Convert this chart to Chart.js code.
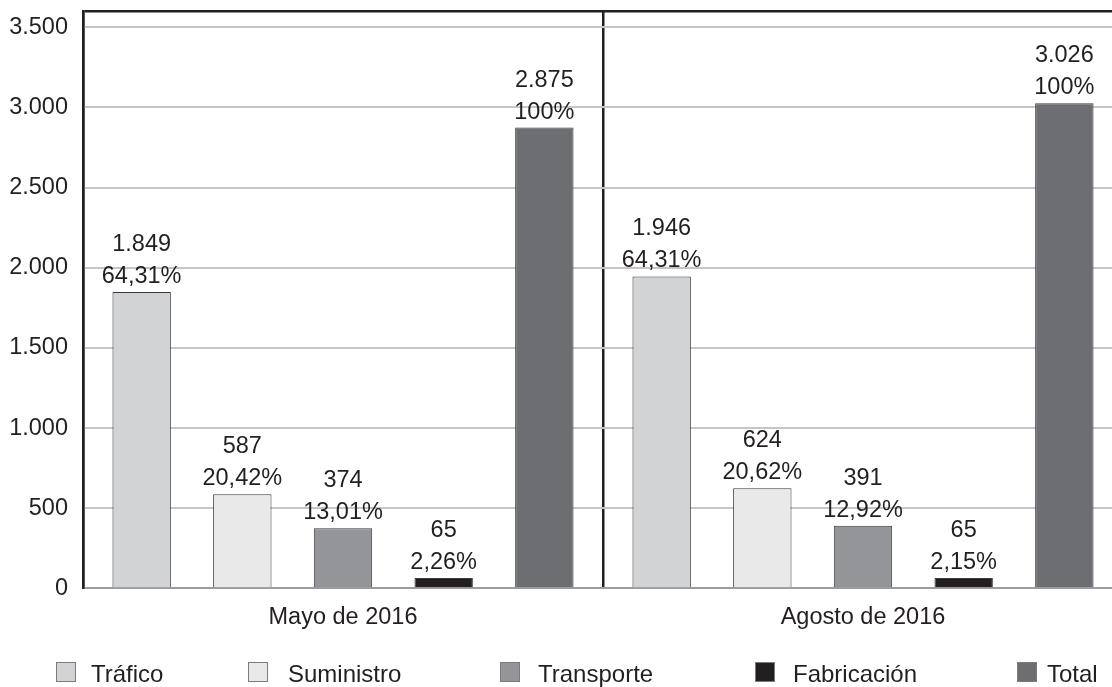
<!DOCTYPE html>
<html>
<head>
<meta charset="utf-8">
<script src="https://cdn.jsdelivr.net/npm/chart.js@4/dist/chart.umd.min.js"></script>
<style>
  html, body { margin: 0; padding: 0; background: #fff; overflow: hidden; }
  #wrap { position: relative; width: 1128px; height: 687px; }
  canvas { position: absolute; left: 0; top: 0; }
  .lg-box { position: absolute; width: 20px; height: 20px; box-sizing: border-box; border: 1.5px solid #7a7b7e; }
  .lg-txt { position: absolute; font-family: "Liberation Sans", Arial, sans-serif; font-size: 24px; line-height: 24px; color: #231f20; white-space: nowrap; }
</style>
</head>
<body>
<div id="wrap">
  <canvas id="c" width="1128" height="687"></canvas>
</div>
<script>
// ---- data ----
const categories = ['Mayo de 2016', 'Agosto de 2016'];
const seriesNames = ['Tráfico', 'Suministro', 'Transporte', 'Fabricación', 'Total'];
const trafico = [1849, 1946];
const suministro = [587, 624];
const transporte = [374, 391];
const fabricacion = [65, 65];
const total = [2875, 3026];
const pctTrafico = ['64,31%', '64,31%'];
const pctSuministro = ['20,42%', '20,62%'];
const pctTransporte = ['13,01%', '12,92%'];
const pctFabricacion = ['2,26%', '2,15%'];
const pctTotal = ['100%', '100%'];
const yTickValues = [0, 500, 1000, 1500, 2000, 2500, 3000, 3500];
const yMin = 0, yMax = 3600;

// ---- styles ----
const colors = ['#d1d3d4', '#e9e9ea', '#939598', '#231f20', '#6d6e71'];
const legendBoxX = [56, 248, 500, 755, 1017];
const legendTextX = [91, 288, 538, 793, 1047];
const FONT = '"Liberation Sans", Arial, sans-serif';
const FSIZE = 23.5;
const TEXT = '#231f20';

const seriesValues = [trafico, suministro, transporte, fabricacion, total];
const seriesPct = [pctTrafico, pctSuministro, pctTransporte, pctFabricacion, pctTotal];

function fmt(n) { return String(n).replace(/\B(?=(\d{3})+(?!\d))/g, '.'); }

const labelPlugin = {
  id: 'barLabels',
  afterDatasetsDraw(chart) {
    const ctx = chart.ctx;
    ctx.save();
    ctx.font = FSIZE + 'px ' + FONT;
    ctx.fillStyle = TEXT;
    ctx.textAlign = 'center';
    ctx.textBaseline = 'alphabetic';
    chart.data.datasets.forEach((ds, di) => {
      const meta = chart.getDatasetMeta(di);
      meta.data.forEach((el, i) => {
        ctx.fillText(fmt(ds.data[i]), el.x, el.y - 41);
        ctx.fillText(seriesPct[di][i], el.x, el.y - 9);
      });
    });
    ctx.restore();
  }
};

new Chart(document.getElementById('c'), {
  type: 'bar',
  data: {
    labels: categories,
    datasets: seriesNames.map((n, i) => ({
      label: n,
      data: seriesValues[i],
      backgroundColor: colors[i],
      borderColor: '#3a3a3c',
      borderWidth: 1,
      categoryPercentage: 0.968,
      barPercentage: 0.58
    }))
  },
  options: {
    responsive: false,
    animation: false,
    layout: { padding: { top: 11.3, right: 5, left: 0, bottom: 0 } },
    plugins: { legend: { display: false }, tooltip: { enabled: false } },
    scales: {
      x: {
        grid: { color: '#231f20', lineWidth: 2.5, drawTicks: false, offset: true },
        border: { display: true, color: '#9d9d9f', width: 2 },
        ticks: { color: TEXT, font: { family: FONT, size: FSIZE }, padding: 15 },
        afterFit(scale) { scale.height = 98.7; scale.paddingLeft = 0; scale.paddingRight = 0; }
      },
      y: {
        min: yMin, max: yMax,
        afterBuildTicks(scale) {
          scale.ticks = yTickValues.concat([yMax]).map(v => ({ value: v }));
        },
        ticks: {
          color: TEXT,
          font: { family: FONT, size: FSIZE },
          padding: 15,
          callback: v => (yTickValues.includes(v) ? fmt(v) : '')
        },
        grid: {
          drawTicks: false,
          color: c => c.tick.value === 0 ? '#9d9d9f' : (yTickValues.includes(c.tick.value) ? '#c6c6c9' : '#231f20'),
          lineWidth: c => (yTickValues.includes(c.tick.value) ? 2 : 2.5)
        },
        border: { display: true, color: '#231f20', width: 2.5 },
        afterFit(scale) { scale.width = 83; scale.paddingTop = 0; scale.paddingBottom = 0; }
      }
    }
  },
  plugins: [labelPlugin]
});

// HTML legend
const wrap = document.getElementById('wrap');
seriesNames.forEach((n, i) => {
  const b = document.createElement('div');
  b.className = 'lg-box';
  b.style.left = legendBoxX[i] + 'px';
  b.style.top = '662px';
  b.style.background = colors[i];
  wrap.appendChild(b);
  const t = document.createElement('div');
  t.className = 'lg-txt';
  t.style.left = legendTextX[i] + 'px';
  t.style.top = '662px';
  t.textContent = n;
  wrap.appendChild(t);
});
</script>
</body>
</html>
